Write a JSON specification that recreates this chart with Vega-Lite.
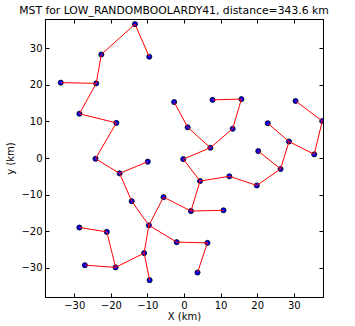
{
  "$schema": "https://vega.github.io/schema/vega-lite/v6.json",
  "width": 278,
  "height": 278,
  "autosize": "none",
  "padding": {"left": 45, "top": 19, "right": 32, "bottom": 29},
  "title": {"text": "MST for LOW_RANDOMBOOLARDY41, distance=343.6 km", "fontSize": 10.8, "fontWeight": "normal", "font": "DejaVu Sans", "color": "black", "anchor": "middle", "offset": 3, "dx": -10},
  "config": {
    "font": "DejaVu Sans",
    "view": {"stroke": "black", "strokeWidth": 1},
    "axis": {
      "grid": false,
      "domainColor": "black",
      "tickColor": "black",
      "tickSize": -4,
      "labelPadding": 7,
      "labelFontSize": 10,
      "labelColor": "black",
      "labelFont": "DejaVu Sans",
      "titleFont": "DejaVu Sans",
      "titleFontSize": 10,
      "titleFontWeight": "normal",
      "titleColor": "black"
    }
  },
  "datasets": {
    "nodes": [
      {"x": -13.4, "y": 36.6}, {"x": -9.5, "y": 27.7}, {"x": -22.6, "y": 28.3}, {"x": -24.0, "y": 20.4},
      {"x": -33.7, "y": 20.6}, {"x": -28.6, "y": 12.1}, {"x": -18.5, "y": 9.6}, {"x": -24.2, "y": -0.2},
      {"x": -17.6, "y": -4.2}, {"x": -9.9, "y": -1.0}, {"x": -14.3, "y": -11.8}, {"x": -9.6, "y": -18.4},
      {"x": -5.6, "y": -10.7}, {"x": 1.9, "y": -14.5}, {"x": 10.8, "y": -14.3}, {"x": -2.0, "y": -23.0},
      {"x": 6.4, "y": -23.2}, {"x": 3.7, "y": -31.3}, {"x": -10.9, "y": -26.0}, {"x": -9.4, "y": -33.4},
      {"x": -18.7, "y": -29.9}, {"x": -27.1, "y": -29.3}, {"x": -21.1, "y": -20.2}, {"x": -28.6, "y": -19.0},
      {"x": -0.2, "y": -0.3}, {"x": 4.4, "y": -6.3}, {"x": 12.4, "y": -5.0}, {"x": 19.9, "y": -7.5},
      {"x": 26.4, "y": -3.0}, {"x": 20.3, "y": 1.9}, {"x": 35.6, "y": 1.0}, {"x": 28.7, "y": 4.5},
      {"x": 22.9, "y": 9.5}, {"x": 37.8, "y": 10.1}, {"x": 30.5, "y": 15.6}, {"x": 13.3, "y": 8.0},
      {"x": 15.7, "y": 16.1}, {"x": 7.8, "y": 15.9}, {"x": 7.2, "y": 2.8}, {"x": 1.0, "y": 8.4},
      {"x": -2.7, "y": 15.3}
    ],
    "edges": [
      {"x": -13.4, "y": 36.6, "x2": -9.5, "y2": 27.7},
      {"x": -13.4, "y": 36.6, "x2": -22.6, "y2": 28.3},
      {"x": -22.6, "y": 28.3, "x2": -24.0, "y2": 20.4},
      {"x": -33.7, "y": 20.6, "x2": -24.0, "y2": 20.4},
      {"x": -24.0, "y": 20.4, "x2": -28.6, "y2": 12.1},
      {"x": -28.6, "y": 12.1, "x2": -18.5, "y2": 9.6},
      {"x": -18.5, "y": 9.6, "x2": -24.2, "y2": -0.2},
      {"x": -24.2, "y": -0.2, "x2": -17.6, "y2": -4.2},
      {"x": -17.6, "y": -4.2, "x2": -9.9, "y2": -1.0},
      {"x": -17.6, "y": -4.2, "x2": -14.3, "y2": -11.8},
      {"x": -14.3, "y": -11.8, "x2": -9.6, "y2": -18.4},
      {"x": -9.6, "y": -18.4, "x2": -5.6, "y2": -10.7},
      {"x": -5.6, "y": -10.7, "x2": 1.9, "y2": -14.5},
      {"x": 1.9, "y": -14.5, "x2": 10.8, "y2": -14.3},
      {"x": 1.9, "y": -14.5, "x2": 4.4, "y2": -6.3},
      {"x": -9.6, "y": -18.4, "x2": -2.0, "y2": -23.0},
      {"x": -2.0, "y": -23.0, "x2": 6.4, "y2": -23.2},
      {"x": 6.4, "y": -23.2, "x2": 3.7, "y2": -31.3},
      {"x": -9.6, "y": -18.4, "x2": -10.9, "y2": -26.0},
      {"x": -10.9, "y": -26.0, "x2": -9.4, "y2": -33.4},
      {"x": -10.9, "y": -26.0, "x2": -18.7, "y2": -29.9},
      {"x": -18.7, "y": -29.9, "x2": -27.1, "y2": -29.3},
      {"x": -18.7, "y": -29.9, "x2": -21.1, "y2": -20.2},
      {"x": -21.1, "y": -20.2, "x2": -28.6, "y2": -19.0},
      {"x": -0.2, "y": -0.3, "x2": 4.4, "y2": -6.3},
      {"x": 4.4, "y": -6.3, "x2": 12.4, "y2": -5.0},
      {"x": 12.4, "y": -5.0, "x2": 19.9, "y2": -7.5},
      {"x": 19.9, "y": -7.5, "x2": 26.4, "y2": -3.0},
      {"x": 26.4, "y": -3.0, "x2": 20.3, "y2": 1.9},
      {"x": 26.4, "y": -3.0, "x2": 28.7, "y2": 4.5},
      {"x": 28.7, "y": 4.5, "x2": 22.9, "y2": 9.5},
      {"x": 28.7, "y": 4.5, "x2": 35.6, "y2": 1.0},
      {"x": 35.6, "y": 1.0, "x2": 37.8, "y2": 10.1},
      {"x": 37.8, "y": 10.1, "x2": 30.5, "y2": 15.6},
      {"x": -0.2, "y": -0.3, "x2": 7.2, "y2": 2.8},
      {"x": 7.2, "y": 2.8, "x2": 1.0, "y2": 8.4},
      {"x": 1.0, "y": 8.4, "x2": -2.7, "y2": 15.3},
      {"x": 7.2, "y": 2.8, "x2": 13.3, "y2": 8.0},
      {"x": 13.3, "y": 8.0, "x2": 15.7, "y2": 16.1},
      {"x": 15.7, "y": 16.1, "x2": 7.8, "y2": 15.9}
    ]
  },
  "layer": [
    {
      "data": {"name": "nodes"},
      "mark": {"type": "point", "shape": "circle", "filled": true, "fill": "#0000ff", "stroke": "black", "strokeWidth": 0.8, "size": 26, "opacity": 1, "clip": true},
      "encoding": {
        "x": {"field": "x", "type": "quantitative", "scale": {"domain": [-38, 38], "nice": false, "zero": false},
              "axis": {"orient": "top", "labels": false, "title": null, "values": [-30, -20, -10, 0, 10, 20, 30]}},
        "y": {"field": "y", "type": "quantitative", "scale": {"domain": [-38, 38], "nice": false, "zero": false},
              "axis": {"orient": "right", "labels": false, "title": null, "values": [-30, -20, -10, 0, 10, 20, 30]}}
      }
    },
    {
      "data": {"name": "edges"},
      "mark": {"type": "rule", "color": "red", "strokeWidth": 1, "clip": true},
      "encoding": {
        "x": {"field": "x", "type": "quantitative", "scale": {"domain": [-38, 38], "nice": false, "zero": false},
              "axis": {"orient": "bottom", "title": "X (km)", "values": [-30, -20, -10, 0, 10, 20, 30], "titlePadding": 1}},
        "y": {"field": "y", "type": "quantitative", "scale": {"domain": [-38, 38], "nice": false, "zero": false},
              "axis": {"orient": "left", "title": "y (km)", "values": [-30, -20, -10, 0, 10, 20, 30], "titlePadding": 5}},
        "x2": {"field": "x2"},
        "y2": {"field": "y2"}
      }
    }
  ],
  "resolve": {"axis": {"x": "independent", "y": "independent"}}
}
